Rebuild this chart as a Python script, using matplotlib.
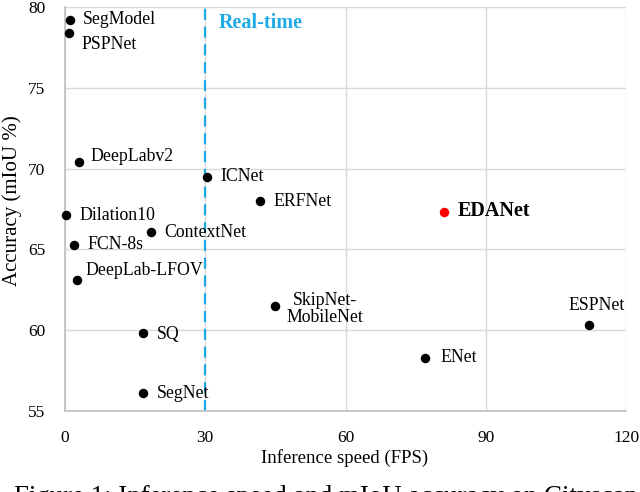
import matplotlib.pyplot as plt

plt.rcParams['font.family'] = ['Liberation Serif', 'DejaVu Serif']

# models: inference speed (FPS) and accuracy (mIoU %)
names = ['SegModel', 'PSPNet', 'DeepLabv2', 'ICNet', 'ERFNet', 'Dilation10',
         'ContextNet', 'FCN-8s', 'DeepLab-LFOV', 'SkipNet-\nMobileNet', 'SQ',
         'SegNet', 'ESPNet', 'ENet']
fps = [1.0, 0.8, 3.0, 30.3, 41.7, 0.25, 18.3, 2.0, 2.5, 45.0, 16.7, 16.7, 112.0, 76.9]
miou = [79.2, 78.4, 70.4, 69.5, 68.0, 67.1, 66.1, 65.3, 63.1, 61.5, 59.8, 56.1, 60.3, 58.3]

ours_name = 'EDANet'
ours_fps = 81.0
ours_miou = 67.3

realtime_fps = 30

# label offsets in pixels (dx, dy, ha)
offsets = {
    'SegModel': (13, 0, 'left'),
    'PSPNet': (13, -12, 'left'),
    'DeepLabv2': (11, 6, 'left'),
    'ICNet': (14, 0, 'left'),
    'ERFNet': (14, -1, 'left'),
    'Dilation10': (13, 0, 'left'),
    'ContextNet': (14, -1, 'left'),
    'FCN-8s': (13, 0, 'left'),
    'DeepLab-LFOV': (9, 10, 'left'),
    'SkipNet-\nMobileNet': (50, -3, 'center'),
    'SQ': (14, -1, 'left'),
    'SegNet': (14, 0, 'left'),
    'ESPNet': (8, 20, 'center'),
    'ENet': (16, 0, 'left'),
}

fig = plt.figure(figsize=(6.4, 4.92), dpi=100)
ax = fig.add_axes([0.1016, 0.1646, 0.8766, 0.8212])

ax.scatter(fps, miou, s=34, color='black', zorder=3, clip_on=False)
ax.scatter([ours_fps], [ours_miou], s=34, color='#ff0000', zorder=3)

for n, x, y in zip(names, fps, miou):
    dx, dy, ha = offsets[n]
    ax.annotate(n, (x, y), xytext=(dx, dy), textcoords='offset pixels',
                ha=ha, va='center', fontsize=12.8, linespacing=1.0)
ax.annotate(ours_name, (ours_fps, ours_miou), xytext=(14, 1), textcoords='offset pixels',
            ha='left', va='center', fontsize=14.5, fontweight='bold')

ax.axvline(realtime_fps, color='#1eaae6', lw=1.6, ls=(0, (5, 3)), zorder=2)
ax.text(realtime_fps + 2.8, 79.0, 'Real-time', color='#1eaae6', fontsize=14.5,
        fontweight='bold', ha='left', va='center')

ax.set_xlim(0, 120)
ax.set_ylim(55, 80)
ax.set_xticks([0, 30, 60, 90, 120])
ax.set_yticks([55, 60, 65, 70, 75, 80])
ax.tick_params(length=0, labelsize=12.5, pad=14)
ax.grid(True, color='#d9d9d9', lw=1)
ax.set_axisbelow(True)
for s in ['top', 'right']:
    ax.spines[s].set_visible(False)
for s in ['left', 'bottom']:
    ax.spines[s].set_color('#bfbfbf')
    ax.spines[s].set_linewidth(1.2)

fig.text(345 / 640, 1 - 458 / 492, 'Inference speed (FPS)', fontsize=13.5,
         ha='center', va='center')
fig.text(12 / 640, 1 - 201 / 492, 'Accuracy (mIoU %)', fontsize=15,
         ha='center', va='center', rotation=90)

fig.text(0.022, 7 / 492, 'Figure 1: Inference speed and mIoU accuracy on Cityscapes',
         fontsize=19.4, ha='left', va='top')

fig.savefig('out.png', dpi=100)
